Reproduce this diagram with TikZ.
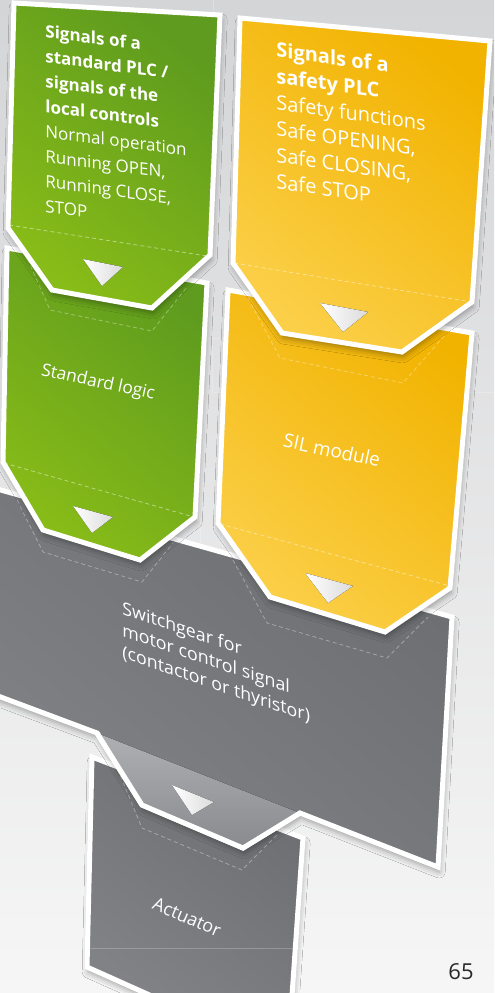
\documentclass[tikz,border=0pt]{standalone}
\usepackage{fontspec}
\setmainfont{Open Sans}
\usetikzlibrary{shadows.blur}
\definecolor{bgtop}{RGB}{212,213,215}
\definecolor{bgbot}{RGB}{246,246,246}
\definecolor{greendark}{RGB}{94,155,30}
\definecolor{greenlight}{RGB}{136,188,24}
\definecolor{yellowdark}{RGB}{242,179,0}
\definecolor{yellowlight}{RGB}{251,207,72}
\definecolor{greydark}{RGB}{108,110,113}
\definecolor{greylight}{RGB}{128,130,133}
\definecolor{tabtop}{RGB}{174,176,179}
\definecolor{tabbot}{RGB}{136,138,141}
\definecolor{pagegrey}{RGB}{40,40,40}

\begin{document}
\begin{tikzpicture}[x=0.5pt,y=-0.5pt,
  card/.style={draw=white,line width=2.5pt,line join=miter,
    blur shadow={shadow xshift=0.6pt,shadow yshift=-2.5pt,shadow blur radius=3pt,shadow opacity=35}},
  greencard/.style={card,top color=greendark,bottom color=greenlight,shading angle=-40},
  yellowcard/.style={card,top color=yellowdark,bottom color=yellowlight,shading angle=-40},
  greycard/.style={card,top color=greydark,bottom color=greylight,shading angle=-40},
  fold/.style={white,opacity=0.45,line width=0.4pt,dash pattern=on 2pt off 1.5pt},
  ghost/.style={white,opacity=0.35,line width=0.4pt,dash pattern=on 2pt off 1.5pt},
  grid/.style={white,opacity=0.22,line width=0.4pt},
  tri/.style={left color=white,right color=black!14},
  txt/.style={text=white,inner sep=0pt,align=left}]
\clip (0,0) rectangle (494,993);
\fill[top color=bgtop,bottom color=bgbot] (0,0) rectangle (494,993);
\fill[greydark,opacity=0.6] (-20,705) .. controls (6,760) and (6,810) .. (-20,860) -- cycle;
% background grid
\draw[grid] (0,338) -- (233,338) (212,338) -- (212,392) -- (494,392);
\draw[grid] (12,487) -- (12,700) (0,596) -- (222,596) -- (222,480);
\draw[grid] (200,517) -- (200,677) -- (443,677) (213,0) -- (213,20);

% actuator
\path[greycard] (92,757) -- (303,838) -- (291,1010) -- (183,1010) -- (87,967) -- cycle;
\draw[ghost] (115,763) -- (142,828) -- (242,870) -- (277,835);
\draw[grid] (88,948) -- (300,948);
\node[txt,rotate=-23,font=\fontsize{9}{11}\selectfont] (actuator) at (187,917) {Actuator};

% switchgear with its tab
\path[greycard] (-10,487) -- (452,617) -- (438,867) -- (300,813) -- (243,848) -- (142,805) -- (97,733) -- (-10,693) -- cycle;
\fill[top color=tabtop,bottom color=tabbot] (97,733) -- (142,805) -- (243,848) -- (300,813) -- cycle;
\draw[white,line width=2.5pt,line join=miter] (97,733) -- (142,805) -- (243,848) -- (300,813);
\fill[tri] (172,785) -- (214,802) -- (192,815) -- cycle;
\draw[ghost] (17,500) -- (43,552) -- (142,582) -- (173,543);
\draw[ghost] (233,560) -- (267,623) -- (387,658) -- (428,617);
\node[txt,anchor=north west,yslant=-0.34,font=\fontsize{8.9}{11}\selectfont] (switchgear) at (122,600)
  {Switchgear for\\motor control signal\\(contactor or thyristor)};

% SIL module
\path[yellowcard] (228,290) -- (472,333) -- (450,588) -- (385,632) -- (270,597) -- (218,523) -- cycle;
\draw[fold] (220,524) -- (450,586);
\draw[ghost] (248,298) -- (280,358) -- (403,383) -- (445,335);
\fill[tri] (305,573) -- (353,586) -- (328,603) -- cycle;
\node[txt,rotate=-12,font=\fontsize{9.5}{12}\selectfont] (silmod) at (332,450) {SIL module};

% standard logic
\path[greencard] (7,248) -- (207,283) -- (195,517) -- (140,560) -- (43,530) -- (3,462) -- cycle;
\draw[fold] (4,463) -- (194,517);
\draw[ghost] (25,253) -- (50,310) -- (152,331) -- (187,287);
\fill[tri] (73,506) -- (113,517) -- (92,533) -- cycle;
\node[txt,rotate=-12,font=\fontsize{8.7}{12}\selectfont] (stdlogic) at (98,383) {Standard logic};

% safety PLC
\path[yellowcard] (240,18) -- (490,41) -- (472,302) -- (402,352) -- (282,333) -- (233,263) -- cycle;
\draw[fold] (234,263) -- (472,302);
\fill[tri] (320,303) -- (368,312) -- (343,332) -- cycle;
\node[txt,anchor=north west,yslant=-0.14,font=\fontsize{10}{13.2}\selectfont] (sigsafe) at (276,41)
  {\textbf{Signals of a}\\\textbf{safety PLC}\\Safety functions\\Safe OPENING,\\Safe CLOSING,\\Safe STOP};

% standard PLC
\path[greencard] (14,3) -- (220,15) -- (210,255) -- (152,308) -- (52,290) -- (8,228) -- cycle;
\draw[fold] (9,225) -- (207,256);
\fill[tri] (83,259) -- (123,267) -- (102,286) -- cycle;
\node[txt,anchor=north west,yslant=-0.13,font=\fontsize{8.5}{12.5}\selectfont] (sigstd) at (45,24)
  {\textbf{Signals of a}\\\textbf{standard PLC /}\\\textbf{signals of the}\\\textbf{local controls}\\Normal operation\\Running OPEN,\\Running CLOSE,\\STOP};

\node[text=pagegrey,font=\fontsize{11}{13}\selectfont] (pagenum) at (461,972) {65};
\end{tikzpicture}
\end{document}
